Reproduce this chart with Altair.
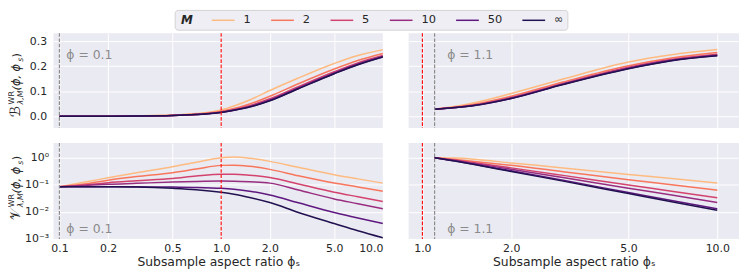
import altair as alt
import pandas as pd

M_LABELS = ["1", "2", "5", "10", "50", "∞"]
COLORS = ["#febb81", "#f8765c", "#d3436e", "#982d80", "#5f187f", "#221150"]

# ---- left column: phi = 0.1 ----
PHI_S_LEFT = [0.1, 0.15, 0.2, 0.3, 0.5, 0.7, 1.0, 1.2, 1.5, 2.0, 3.0, 5.0, 7.0, 10.0]
BIAS_LEFT = [
    [0.0, 0.0005, 0.001, 0.002, 0.005, 0.011, 0.025, 0.041, 0.065, 0.103, 0.153, 0.211, 0.243, 0.266],
    [0.0, 0.0004, 0.0008, 0.0015, 0.004, 0.009, 0.020, 0.031, 0.049, 0.080, 0.130, 0.189, 0.223, 0.251],
    [0.0, 0.0003, 0.0006, 0.0012, 0.0034, 0.0078, 0.0174, 0.0274, 0.0426, 0.0702, 0.1186, 0.1782, 0.2134, 0.2428],
    [0.0, 0.0003, 0.0005, 0.0011, 0.0032, 0.0074, 0.0165, 0.0257, 0.0398, 0.0661, 0.1143, 0.1741, 0.2097, 0.2399],
    [0.0, 0.0003, 0.0005, 0.001, 0.003, 0.007, 0.0158, 0.0245, 0.0378, 0.0632, 0.1113, 0.1712, 0.2071, 0.2379],
    [0.0, 0.0003, 0.0005, 0.001, 0.003, 0.007, 0.0155, 0.024, 0.037, 0.062, 0.110, 0.170, 0.206, 0.237],
]
VAR_LEFT = [
    [0.085, 0.133, 0.18, 0.277, 0.46, 0.68, 1.0, 1.06, 0.95, 0.73, 0.44, 0.235, 0.165, 0.115],
    [0.085, 0.112, 0.148, 0.20, 0.28, 0.38, 0.52, 0.53, 0.48, 0.37, 0.215, 0.116, 0.083, 0.058],
    [0.085, 0.10, 0.119, 0.14, 0.17, 0.21, 0.245, 0.245, 0.225, 0.185, 0.107, 0.053, 0.036, 0.024],
    [0.085, 0.095, 0.104, 0.113, 0.126, 0.133, 0.137, 0.135, 0.128, 0.115, 0.064, 0.030, 0.020, 0.013],
    [0.085, 0.085, 0.085, 0.084, 0.082, 0.080, 0.074, 0.068, 0.058, 0.042, 0.0216, 0.0095, 0.0059, 0.0037],
    [0.085, 0.085, 0.084, 0.082, 0.074, 0.066, 0.053, 0.045, 0.034, 0.022, 0.0095, 0.0037, 0.0020, 0.0011],
]

# ---- right column: phi = 1.1 ----
PHI_S_RIGHT = [1.1, 1.3, 1.5, 2.0, 3.0, 5.0, 7.0, 10.0]
BIAS_RIGHT = [
    [0.0285, 0.040, 0.054, 0.091, 0.149, 0.217, 0.246, 0.267],
    [0.0285, 0.037, 0.048, 0.080, 0.137, 0.202, 0.233, 0.255],
    [0.0285, 0.036, 0.045, 0.075, 0.131, 0.196, 0.227, 0.248],
    [0.0285, 0.0355, 0.044, 0.073, 0.129, 0.193, 0.2245, 0.245],
    [0.0285, 0.035, 0.043, 0.0715, 0.1275, 0.1905, 0.2225, 0.2425],
    [0.0285, 0.035, 0.043, 0.071, 0.127, 0.190, 0.222, 0.242],
]
VAR_RIGHT = [
    [1.0, 0.97, 0.87, 0.64, 0.42, 0.24, 0.17, 0.116],
    [1.0, 0.85, 0.73, 0.525, 0.305, 0.153, 0.10, 0.063],
    [1.0, 0.80, 0.65, 0.42, 0.222, 0.098, 0.058, 0.033],
    [1.0, 0.78, 0.61, 0.376, 0.185, 0.0745, 0.042, 0.022],
    [1.0, 0.75, 0.57, 0.327, 0.146, 0.0516, 0.026, 0.013],
    [1.0, 0.74, 0.56, 0.309, 0.136, 0.0473, 0.0236, 0.0114],
]

X_TICKS_LEFT = [0.1, 0.2, 0.5, 1.0, 2.0, 5.0, 10.0]
X_TICKS_RIGHT = [1.0, 2.0, 5.0, 10.0]
Y_TICKS_BIAS = [0.0, 0.1, 0.2, 0.3]
Y_TICKS_VAR = [0.001, 0.01, 0.1, 1.0]
PHI_LEFT = 0.1
PHI_RIGHT = 1.1
PHI_CRIT = 1.0
X_TITLE = "Subsample aspect ratio ϕₛ"
LEGEND_TITLE = "M"

FONT = "DejaVu Sans"
INK = "#262626"
ONE = pd.DataFrame({"k": [0]})

W_LEFT, W_RIGHT = 333, 334
H_TOP, H_BOT = 96, 97


def long_df(xs, series):
    rows = []
    for m, ys in zip(M_LABELS, series):
        for x, y in zip(xs, ys):
            rows.append({"phi_s": x, "value": y, "M": m})
    return pd.DataFrame(rows)


def txt(text, x, y, size, style="normal", angle=0, align="left", baseline="alphabetic",
        color=INK, weight="normal"):
    return alt.Chart(ONE).mark_text(
        font=FONT, fontSize=size, fontStyle=style, fontWeight=weight, angle=angle, align=align,
        baseline=baseline, color=color,
    ).encode(x=alt.value(x), y=alt.value(y), text=alt.value(text))


def legend_layers():
    # horizontal legend box drawn above the top-left panel (pixel layout, relative to that panel)
    top, bottom, left, right = -23, -3, 123, 520
    mid = (top + bottom) / 2
    box = alt.Chart(ONE).mark_rect(
        fill="#eeeef4", stroke="#d2d2d2", strokeWidth=1, cornerRadius=3
    ).encode(x=alt.value(left), x2=alt.value(right), y=alt.value(top), y2=alt.value(bottom))
    out = [box, txt(LEGEND_TITLE, left + 6, mid, 12, style="italic", baseline="middle", weight="bold")]
    pos = 160
    for lab, col in zip(M_LABELS, COLORS):
        out.append(alt.Chart(ONE).mark_rule(color=col, strokeWidth=1.5).encode(
            x=alt.value(pos), x2=alt.value(pos + 23), y=alt.value(mid)))
        out.append(txt(lab, pos + 32, mid, 11.5, baseline="middle"))
        pos += 60 + 7 * (len(lab) - 1)
    return out


def ytitle(main, y0):
    # rotated mathtext-like title: main^{WR}_{lambda,M}(phi, phi_s)
    y1 = y0 - 13
    y2 = y1 - 14
    y3 = y2 - 29
    y4 = y3 - 4.5
    return [
        txt(main, -34, y0, 14, angle=270),
        txt("WR", -40, y1, 8, angle=270),
        txt("λ,M", -30.5, y1, 8, style="italic", angle=270),
        txt("(ϕ, ϕ", -34, y2, 11.5, style="italic", angle=270),
        txt("s", -31, y3, 8, style="italic", angle=270),
        txt(")", -34, y4, 11.5, angle=270),
    ]


def panel(xs, series, left, top):
    df = long_df(xs, series)
    xdom = [0.0919, 10.0] if left else [0.898, 11.85]
    xticks = X_TICKS_LEFT if left else X_TICKS_RIGHT
    if top:
        yscale = alt.Scale(type="linear", domain=[-0.047, 0.332], nice=False, zero=False)
        yaxis = alt.Axis(values=Y_TICKS_BIAS, format=".1f", labels=left, title=None, grid=True,
                         labelPadding=7)
    else:
        yscale = alt.Scale(type="log", domain=[0.001, 3.5], nice=False)
        yaxis = alt.Axis(
            values=Y_TICKS_VAR, labels=left, title=None, grid=True, labelPadding=5,
            labelExpr="datum.value >= 0.5 ? '10⁰' : datum.value >= 0.05 ? '10⁻¹' : datum.value >= 0.005 ? '10⁻²' : '10⁻³'",
        )
    xaxis = alt.Axis(values=xticks, format=".1f", labels=not top, title=None if top else X_TITLE,
                     grid=True, labelPadding=4, titlePadding=2)
    xscale = alt.Scale(type="log", domain=xdom, nice=False)

    lines = alt.Chart(df).mark_line(strokeWidth=1.5, interpolate="monotone", clip=True).encode(
        x=alt.X("phi_s:Q", scale=xscale, axis=xaxis),
        y=alt.Y("value:Q", scale=yscale, axis=yaxis),
        color=alt.Color("M:N", scale=alt.Scale(domain=M_LABELS, range=COLORS), sort=M_LABELS, legend=None),
    )
    phi = PHI_LEFT if left else PHI_RIGHT
    gray = alt.Chart(pd.DataFrame({"phi_s": [phi]})).mark_rule(
        color="#8c8c8c", strokeDash=[3.7, 1.6], strokeWidth=1.2
    ).encode(x="phi_s:Q")
    red = alt.Chart(pd.DataFrame({"phi_s": [PHI_CRIT]})).mark_rule(
        color="#ff0000", strokeDash=[3.7, 1.6], strokeWidth=1.1
    ).encode(x="phi_s:Q")
    note = txt("ϕ = 0.1" if left else "ϕ = 1.1", 13 if left else 39, 22 if top else 87, 12.5,
               baseline="middle", color="#8a8a8a")
    layers = [lines, gray, red, note]
    if left:
        layers += ytitle("ℬ", 85) if top else ytitle("𝒱", 78)
    if left and top:
        layers += legend_layers()
    return alt.layer(*layers).properties(width=W_LEFT if left else W_RIGHT, height=H_TOP if top else H_BOT)


top_row = alt.hconcat(panel(PHI_S_LEFT, BIAS_LEFT, True, True), panel(PHI_S_RIGHT, BIAS_RIGHT, False, True),
                      spacing=26, bounds="flush")
bot_row = alt.hconcat(panel(PHI_S_LEFT, VAR_LEFT, True, False), panel(PHI_S_RIGHT, VAR_RIGHT, False, False),
                      spacing=26, bounds="flush")

chart = alt.vconcat(top_row, bot_row, spacing=13).properties(
    padding=0, background="white"
).configure_view(fill="#EAEAF2", stroke=None).configure_axis(
    domain=False, ticks=False, tickSize=0, gridColor="white", gridWidth=1,
    labelFont=FONT, labelFontSize=11, labelColor=INK,
    titleFont=FONT, titleFontSize=12.5, titleFontWeight="normal", titleColor=INK,
)

chart.save("out.html", embed_options={"renderer": "svg", "actions": False})
